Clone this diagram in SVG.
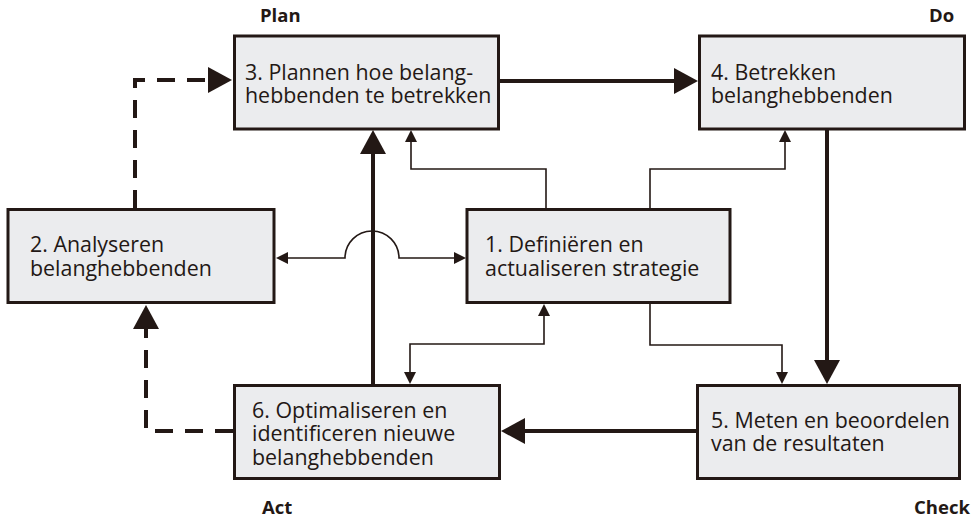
<svg xmlns="http://www.w3.org/2000/svg" width="978" height="519" viewBox="0 0 978 519">
  <style>
    .box { fill: #ebecee; stroke: #231815; stroke-width: 3; }
    .txt { font-family: "Open Sans", "Noto Sans", sans-serif; font-size: 21.4px; fill: #231815; }
    .phase { font-family: "Open Sans", "Noto Sans", sans-serif; font-size: 18.5px; font-weight: bold; fill: #231815; }
    .thick { fill: none; stroke: #231815; stroke-width: 4; }
    .dash { fill: none; stroke: #231815; stroke-width: 4; stroke-dasharray: 18 12; }
    .thin { fill: none; stroke: #231815; stroke-width: 1.6; }
  </style>
  <defs>
    <marker id="ah" markerUnits="userSpaceOnUse" markerWidth="26" markerHeight="28" refX="2" refY="13" orient="auto" overflow="visible">
      <path d="M0,0 L24,13 L0,26 Z" fill="#231815"/>
    </marker>
    <marker id="as" markerUnits="userSpaceOnUse" markerWidth="14" markerHeight="14" refX="1" refY="6" orient="auto-start-reverse" overflow="visible">
      <path d="M0,0 L12,6 L0,12 Z" fill="#231815"/>
    </marker>
  </defs>

  <!-- phase labels -->
  <text class="phase" x="260" y="22">Plan</text>
  <text class="phase" x="929" y="22">Do</text>
  <text class="phase" x="262" y="514">Act</text>
  <text class="phase" x="914" y="514">Check</text>

  <!-- connectors -->
  <g id="connectors">
    <!-- main cycle -->
    <path class="thick" d="M499,81 L676,81" marker-end="url(#ah)"/>
    <path class="thick" d="M827,130 L827,362" marker-end="url(#ah)"/>
    <path class="thick" d="M697,431 L523,431" marker-end="url(#ah)"/>
    <path class="thick" d="M373,385 L373,152" marker-end="url(#ah)"/>
    <!-- dashed feedback loops -->
    <path class="dash" d="M233,431 L146,431 L146,327" marker-end="url(#ah)"/>
    <path class="dash" d="M135,208 L135,80 L210,80" marker-end="url(#ah)"/>
    <!-- links with the strategy box -->
    <path class="thin" d="M287,258 L345,258 A27,27 0 0 1 399,258 L455,258" marker-start="url(#as)" marker-end="url(#as)"/>
    <path class="thin" d="M546,209 L546,169 L411,169 L411,141" marker-end="url(#as)"/>
    <path class="thin" d="M650,209 L650,169 L785,169 L785,141" marker-end="url(#as)"/>
    <path class="thin" d="M650,303 L650,345 L782,345 L782,373" marker-end="url(#as)"/>
    <path class="thin" d="M544,315 L544,344 L410,344 L410,373" marker-start="url(#as)" marker-end="url(#as)"/>
  </g>

  <g id="node-1">
    <rect class="box" x="467" y="209.5" width="263" height="93"/>
    <text class="txt" x="485" y="252">1. Definiëren en</text>
    <text class="txt" x="485" y="275.5">actualiseren strategie</text>
  </g>
  <g id="node-2">
    <rect class="box" x="8" y="209.5" width="266" height="93"/>
    <text class="txt" x="30" y="252">2. Analyseren</text>
    <text class="txt" x="30" y="275.5">belanghebbenden</text>
  </g>
  <g id="node-3">
    <rect class="box" x="234.5" y="36" width="264" height="93"/>
    <text class="txt" x="245" y="80">3. Plannen hoe belang-</text>
    <text class="txt" x="245" y="103">hebbenden te betrekken</text>
  </g>
  <g id="node-4">
    <rect class="box" x="699.5" y="36" width="265" height="93"/>
    <text class="txt" x="711" y="80">4. Betrekken</text>
    <text class="txt" x="711" y="103">belanghebbenden</text>
  </g>
  <g id="node-5">
    <rect class="box" x="697.5" y="385.5" width="262" height="93"/>
    <text class="txt" x="711" y="428">5. Meten en beoordelen</text>
    <text class="txt" x="711" y="451">van de resultaten</text>
  </g>
  <g id="node-6">
    <rect class="box" x="234.5" y="385.5" width="265" height="93"/>
    <text class="txt" x="252" y="417.5">6. Optimaliseren en</text>
    <text class="txt" x="252" y="441">identificeren nieuwe</text>
    <text class="txt" x="252" y="464.5">belanghebbenden</text>
  </g>
</svg>
